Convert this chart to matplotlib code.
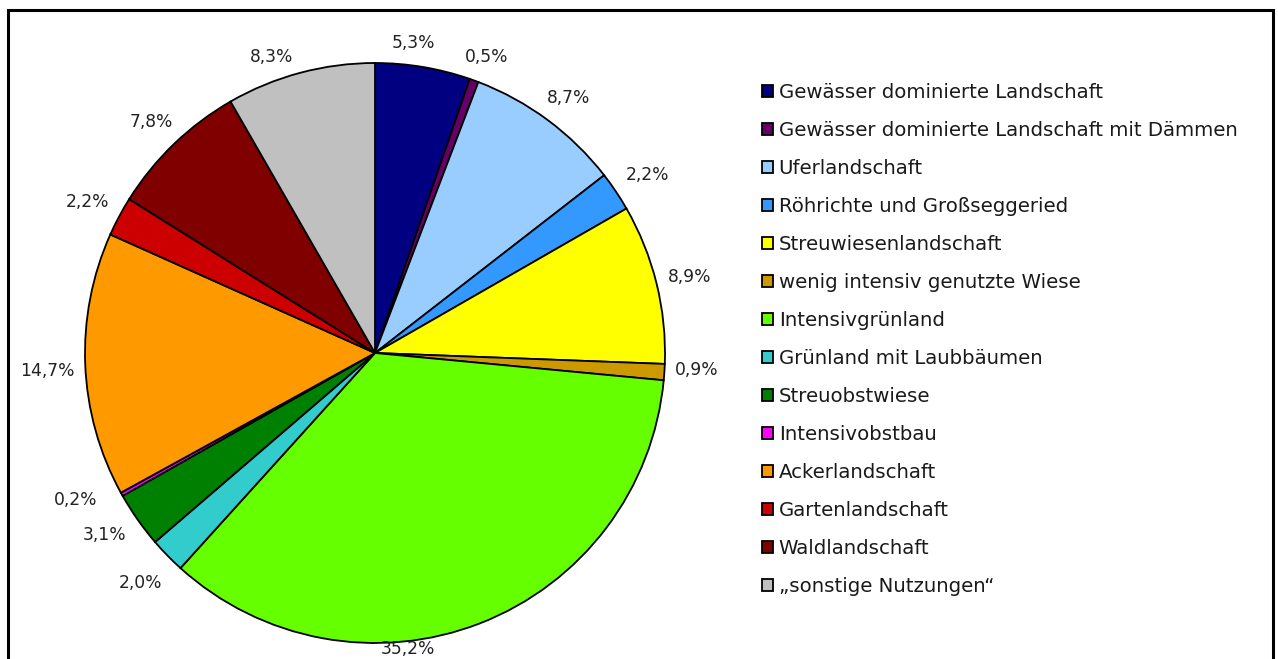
import matplotlib.pyplot as plt
from matplotlib.patches import Rectangle

# Flächenanteile der Landschaftstypen (in %)
categories = [
    "Gewässer dominierte Landschaft",
    "Gewässer dominierte Landschaft mit Dämmen",
    "Uferlandschaft",
    "Röhrichte und Großseggeried",
    "Streuwiesenlandschaft",
    "wenig intensiv genutzte Wiese",
    "Intensivgrünland",
    "Grünland mit Laubbäumen",
    "Streuobstwiese",
    "Intensivobstbau",
    "Ackerlandschaft",
    "Gartenlandschaft",
    "Waldlandschaft",
    "\u201esonstige Nutzungen\u201c",
]
shares = [5.3, 0.5, 8.7, 2.2, 8.9, 0.9, 35.2, 2.0, 3.1, 0.2, 14.7, 2.2, 7.8, 8.3]

colors = ["#000080", "#660066", "#99CCFF", "#3399FF", "#FFFF00", "#CC9900",
          "#66FF00", "#33CCCC", "#008000", "#FF00FF", "#FF9900", "#CC0000",
          "#800000", "#C0C0C0"]

# where each percentage label sits, in units of the pie radius
label_pos = [(0.131, 1.069), (0.386, 1.021), (0.666, 0.879), (0.941, 0.614),
             (1.086, 0.262), (1.110, -0.059), (0.114, -1.022), (-0.810, -0.793),
             (-0.931, -0.628), (-1.034, -0.507), (-1.131, -0.062), (-0.993, 0.521),
             (-0.772, 0.797), (-0.355, 1.021)]

W, H = 1278, 659
fig = plt.figure(figsize=(W / 100, H / 100), dpi=100)

# pie centred at (375, 353) px with a 290 px radius
cx, cy, r = 375, 353, 290
ax = fig.add_axes([(cx - r) / W, (H - cy - r) / H, 2 * r / W, 2 * r / H])
wedges, _ = ax.pie(shares, colors=colors, startangle=90, counterclock=False,
                   radius=1.0, wedgeprops=dict(edgecolor="black", linewidth=1.3))
ax.set_xlim(-1, 1)
ax.set_ylim(-1, 1)
ax.set_aspect("equal")
ax.axis("off")

for val, (lx, ly) in zip(shares, label_pos):
    ax.text(lx, ly, f"{val:.1f}%".replace(".", ","), ha="center", va="center",
            fontsize=12.3, color="#222222", clip_on=False)

leg = fig.legend(wedges, categories, loc="upper left",
                 bbox_to_anchor=(754 / W, 1 - 75 / H), frameon=False,
                 fontsize=14.2, handlelength=0.55, handleheight=0.55,
                 handletextpad=0.3, labelspacing=0.965, borderaxespad=0)
for h in leg.legend_handles:
    h.set_linewidth(1.3)
for t in leg.get_texts():
    t.set_color("#1a1a1a")

# outer frame, open at the bottom edge of the image
fig.add_artist(Rectangle((8 / W, -0.05), (1273 - 8) / W, 1.05 - 10 / H,
                         transform=fig.transFigure, fill=False,
                         edgecolor="black", linewidth=2.2))

fig.savefig("out.png", dpi=100)
